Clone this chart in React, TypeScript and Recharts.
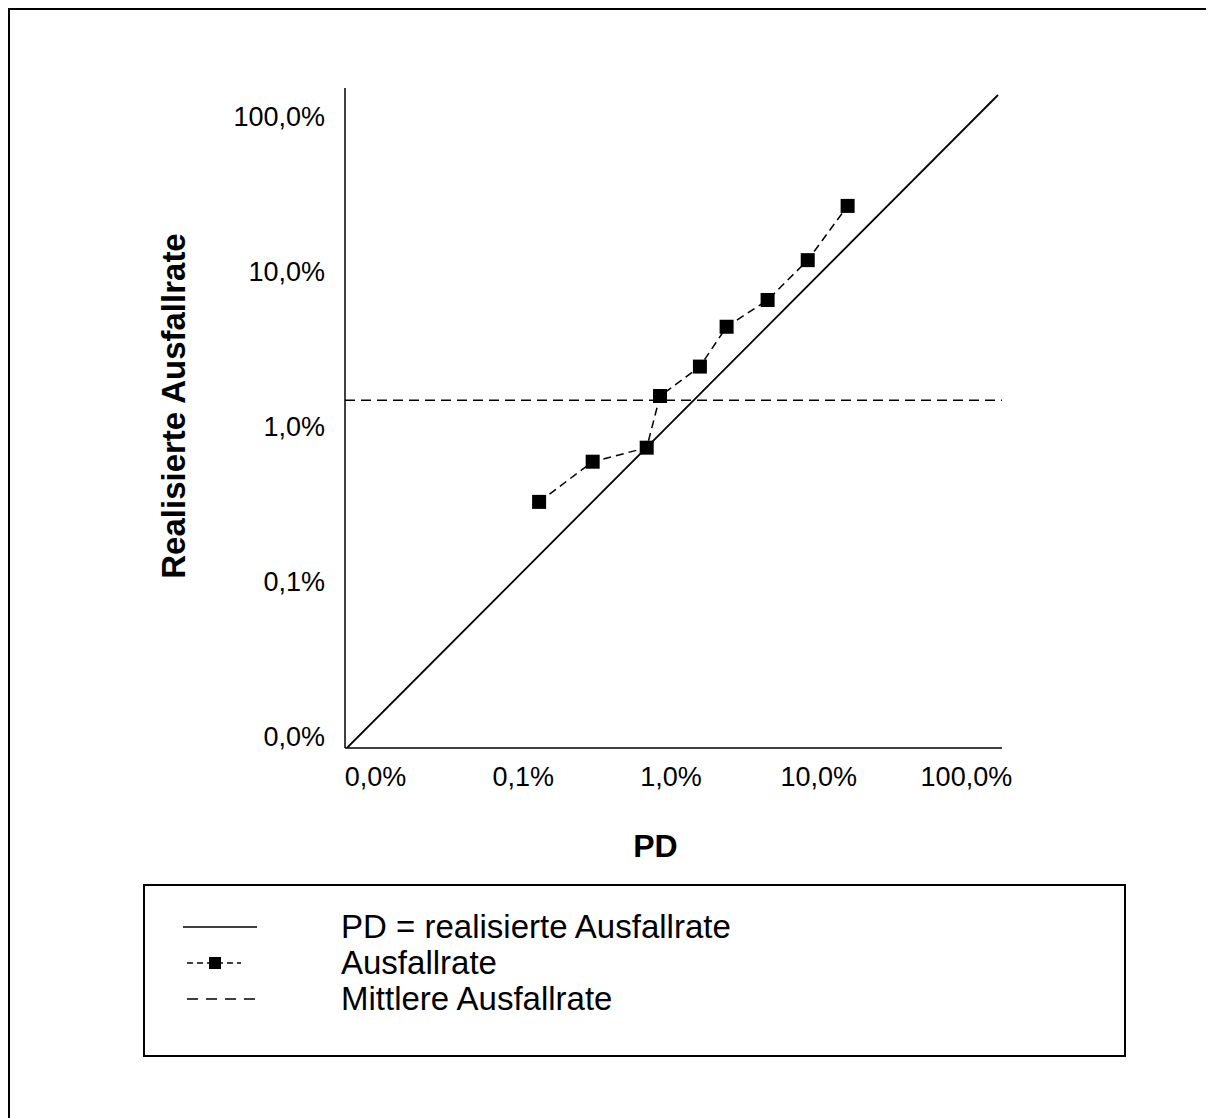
import React from "react";
import {
  ComposedChart,
  Scatter,
  XAxis,
  YAxis,
  ReferenceLine,
  Legend,
} from "recharts";

const FONT = "'Liberation Sans', Arial, Helvetica, sans-serif";

// log-scale tick values (0,0% ... 100,0%)
const xTicks = [0.0001, 0.001, 0.01, 0.1, 1];
const yTicks = [0.0001, 0.001, 0.01, 0.1, 1];

// axis ranges
const xDomain = [0.0000621, 1.742];
const yDomain = [0.0000844, 1.52];

// Ausfallrate per PD class
const pdValues = [0.00128, 0.00295, 0.00685, 0.00843, 0.0157, 0.0238, 0.0451, 0.0843, 0.157];
const rateValues = [0.00326, 0.00592, 0.00729, 0.0157, 0.0243, 0.0439, 0.0653, 0.118, 0.264];

// mittlere Ausfallrate
const meanRate = 0.01473;

// diagonal "PD = realisierte Ausfallrate" (end points)
const diagPd = [0.000064, 1.637];
const diagRate = [0.0000844, 1.37];

const legendLabels = ["PD = realisierte Ausfallrate", "Ausfallrate", "Mittlere Ausfallrate"];

const ausfallData = pdValues.map((x, i) => ({ x, y: rateValues[i] }));
const diagData = diagPd.map((x, i) => ({ x, y: diagRate[i] }));

const fmtPct = (v: number) => (v * 100).toFixed(1).replace(".", ",") + "%";

const Square = (props: any) => {
  const { cx, cy } = props;
  if (cx == null || cy == null) return <g />;
  return <rect x={cx - 7} y={cy - 7} width={14} height={14} fill="#000" />;
};

const NoDot = () => <g />;

function LegendBox() {
  const samples = [
    <line key="a" x1={0} x2={74} y1={10} y2={10} stroke="#000" strokeWidth={1.5} />,
    <g key="b">
      <line x1={4} x2={58} y1={10} y2={10} stroke="#000" strokeWidth={1.5} strokeDasharray="6 4" />
      <rect x={26} y={4} width={12} height={12} fill="#000" />
    </g>,
    <line key="c" x1={4} x2={74} y1={10} y2={10} stroke="#000" strokeWidth={1.5} strokeDasharray="11 8" />,
  ];
  return (
    <div
      style={{
        position: "relative",
        width: 983,
        height: 173,
        boxSizing: "border-box",
        border: "2px solid #000",
        background: "#fff",
        fontFamily: FONT,
      }}
    >
      {legendLabels.map((label, i) => (
        <div
          key={label}
          style={{
            position: "absolute",
            left: 38,
            top: 23 + i * 36,
            height: 36,
            display: "flex",
            alignItems: "center",
          }}
        >
          <svg width={80} height={20} style={{ display: "block" }}>
            {samples[i]}
          </svg>
          <span
            style={{
              marginLeft: 78,
              fontSize: 33,
              lineHeight: "36px",
              color: "#000",
              whiteSpace: "nowrap",
            }}
          >
            {label}
          </span>
        </div>
      ))}
    </div>
  );
}

export default function App() {
  return (
    <div
      style={{
        width: 1204,
        height: 1108,
        borderLeft: "2px solid #000",
        borderTop: "2px solid #000",
        background: "#fff",
        fontFamily: FONT,
      }}
    >
      <style>{"body{overflow:hidden}"}</style>
      <ComposedChart
        width={1204}
        height={1100}
        margin={{ top: 78, right: 212, bottom: 248, left: 158 }}
      >
        <XAxis
          type="number"
          dataKey="x"
          scale="log"
          domain={xDomain}
          allowDataOverflow
          ticks={xTicks}
          interval={0}
          tickFormatter={fmtPct}
          tickLine={false}
          tickMargin={13}
          height={114}
          axisLine={{ stroke: "#000", strokeWidth: 1.5 }}
          tick={{ fill: "#000", fontSize: 27, fontFamily: FONT }}
          label={{
            value: "PD",
            position: "insideBottom",
            dx: -18,
            style: { fontWeight: "bold", fontSize: 32, fill: "#000", fontFamily: FONT },
          }}
        />
        <YAxis
          type="number"
          dataKey="y"
          scale="log"
          domain={yDomain}
          allowDataOverflow
          ticks={yTicks}
          interval={0}
          tickFormatter={fmtPct}
          tickLine={false}
          tickMargin={14}
          width={177}
          axisLine={{ stroke: "#000", strokeWidth: 1.5 }}
          tick={{ fill: "#000", fontSize: 27, fontFamily: FONT }}
          label={{
            value: "Realisierte Ausfallrate",
            angle: -90,
            position: "insideLeft",
            dy: -12,
            style: {
              textAnchor: "middle",
              fontWeight: "bold",
              fontSize: 33,
              fill: "#000",
              fontFamily: FONT,
            },
          }}
        />
        <ReferenceLine
          y={meanRate}
          stroke="#000"
          strokeWidth={1.5}
          strokeDasharray="10 6"
          ifOverflow="hidden"
        />
        <Scatter
          name="PD = realisierte Ausfallrate"
          data={diagData}
          fill="#000"
          line={{ stroke: "#000", strokeWidth: 1.8 }}
          lineType="joint"
          shape={NoDot}
          isAnimationActive={false}
        />
        <Scatter
          name="Ausfallrate"
          data={ausfallData}
          fill="#000"
          line={{ stroke: "#000", strokeWidth: 1.5, strokeDasharray: "8 5" }}
          lineType="joint"
          shape={Square}
          isAnimationActive={false}
        />
        <Legend
          layout="vertical"
          align="center"
          verticalAlign="middle"
          content={() => <LegendBox />}
          wrapperStyle={{ position: "absolute", left: 133, top: 874, width: 983, height: 173 }}
        />
      </ComposedChart>
    </div>
  );
}
